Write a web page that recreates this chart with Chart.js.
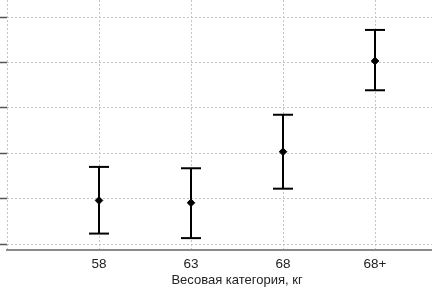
<!DOCTYPE html>
<html>
<head>
<meta charset="utf-8">
<script src="https://cdn.jsdelivr.net/npm/chart.js@4/dist/chart.umd.min.js"></script>
<style>
html, body { margin: 0; padding: 0; overflow: hidden; background: #fff; width: 432px; height: 288px; }
canvas { display: block; }
</style>
</head>
<body>
<canvas id="c" width="467" height="288"></canvas>
<script>
const categories = ['58', '63', '68', '68+'];
const means = [1.96, 1.91, 3.035, 5.035];
const upper = [2.70, 2.67, 3.85, 5.72];
const lower = [1.23, 1.13, 2.22, 4.39];
const yTicks = [1, 2, 3, 4, 5, 6];

const errDatasets = categories.map((c, i) => ({
  data: [{x: i + 1, y: lower[i]}, {x: i + 1, y: upper[i]}],
  showLine: true,
  borderColor: '#000',
  borderWidth: 2,
  pointStyle: 'line',
  pointRadius: 10,
  pointBorderWidth: 2,
  pointBorderColor: '#000',
  pointBackgroundColor: '#000'
}));

const meanDataset = {
  data: categories.map((c, i) => ({x: i + 1, y: means[i]})),
  showLine: false,
  pointStyle: 'rectRot',
  pointRadius: 3.8,
  backgroundColor: '#000',
  borderColor: '#000',
  pointBorderWidth: 1
};

new Chart(document.getElementById('c'), {
  type: 'scatter',
  data: { datasets: [...errDatasets, meanDataset] },
  options: {
    responsive: false,
    animation: false,
    layout: { padding: 0, autoPadding: false },
    plugins: { legend: { display: false }, tooltip: { enabled: false } },
    scales: {
      x: {
        type: 'linear',
        min: 0,
        max: 5,
        afterBuildTicks: (s) => { s.ticks = [0, 1, 2, 3, 4].map(v => ({value: v})); },
        afterFit: (s) => { s.height = 38; },
        ticks: {
          callback: (v) => (v >= 1 && v <= categories.length) ? categories[v - 1] : '',
          font: { family: 'Liberation Sans, Arial', size: 13.5 },
          color: '#222',
          padding: 6,
          maxRotation: 0,
          autoSkip: false
        },
        grid: { color: '#c4c4c4', lineWidth: 1, drawTicks: false },
        border: { display: true, color: '#8a8a8a', width: 2, dash: [2, 2] },
        title: {
          display: true,
          text: 'Весовая категория, кг',
          font: { family: 'Liberation Sans, Arial', size: 13 },
          color: '#222',
          padding: { top: 2, bottom: 0 }
        }
      },
      y: {
        type: 'linear',
        min: 0.868,
        max: 6.38,
        afterBuildTicks: (s) => { s.ticks = yTicks.map(v => ({value: v})); },
        ticks: { display: false },
        grid: { color: '#c4c4c4', lineWidth: 1, drawTicks: true, tickLength: 7, tickColor: '#555', tickWidth: 1.5 },
        border: { display: false, dash: [2, 2] }
      }
    }
  }
});
</script>
</body>
</html>
